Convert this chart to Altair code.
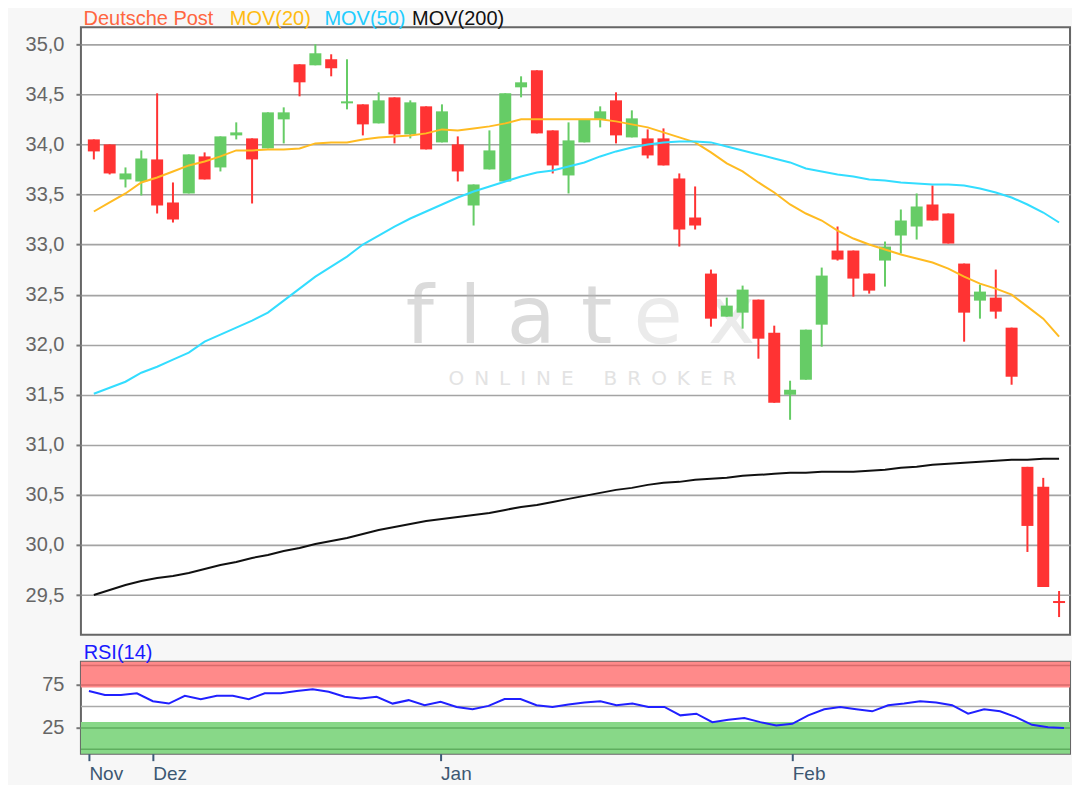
import altair as alt
import pandas as pd

# ---- data (62 trading days, late Nov .. late Feb) ----
opens = [34.05, 34.00, 33.65, 33.63, 33.85, 33.42, 33.51, 33.88, 33.77, 34.09,
         34.06, 33.96, 34.25, 34.80, 34.79, 34.85, 34.41, 34.40, 34.21, 34.47,
         34.10, 34.38, 34.02, 34.00, 33.39, 33.75, 33.63, 34.57, 34.74, 34.14,
         33.69, 34.02, 34.25, 34.44, 34.07, 34.06, 34.06, 33.66, 33.27, 32.71,
         32.28, 32.32, 32.45, 32.12, 31.50, 31.65, 32.20, 32.94, 32.94, 32.71,
         32.84, 33.09, 33.18, 33.40, 33.31, 32.81, 32.44, 32.47, 32.17, 30.78,
         30.58, 29.44]
highs = [34.05, 34.00, 33.77, 33.94, 34.51, 33.62, 33.90, 33.92, 34.08, 34.22,
         34.06, 34.32, 34.37, 34.80, 35.00, 34.90, 34.85, 34.40, 34.52, 34.47,
         34.44, 34.38, 34.40, 34.08, 33.60, 34.14, 34.51, 34.68, 34.74, 34.14,
         34.22, 34.25, 34.38, 34.52, 34.34, 34.15, 34.16, 33.71, 33.58, 32.75,
         32.47, 32.59, 32.45, 32.19, 31.64, 32.15, 32.77, 33.18, 32.94, 32.71,
         33.03, 33.35, 33.51, 33.59, 33.31, 32.81, 32.60, 32.75, 32.17, 30.78,
         30.67, 29.54]
lows = [33.85, 33.70, 33.57, 33.49, 33.31, 33.22, 33.51, 33.65, 33.73, 34.05,
        33.41, 33.96, 34.01, 34.48, 34.79, 34.68, 34.35, 34.09, 34.21, 34.01,
        34.06, 33.95, 34.02, 33.63, 33.19, 33.75, 33.63, 34.47, 34.11, 33.71,
        33.51, 34.02, 34.17, 34.01, 34.07, 33.86, 33.79, 32.98, 33.15, 32.18,
        32.28, 32.16, 31.86, 31.42, 31.25, 31.65, 31.98, 32.84, 32.48, 32.51,
        32.58, 32.91, 33.05, 33.24, 33.01, 32.03, 32.26, 32.26, 31.60, 29.93,
        29.58, 29.28]
closes = [33.93, 33.71, 33.71, 33.86, 33.39, 33.25, 33.90, 33.65, 34.08, 34.12,
          33.85, 34.32, 34.32, 34.62, 34.91, 34.76, 34.43, 34.20, 34.44, 34.10,
          34.42, 33.95, 34.33, 33.73, 33.60, 33.94, 34.51, 34.62, 34.11, 33.79,
          34.04, 34.25, 34.33, 34.09, 34.26, 33.89, 33.79, 33.15, 33.19, 32.26,
          32.39, 32.55, 32.06, 31.42, 31.55, 32.15, 32.69, 32.85, 32.66, 32.54,
          32.98, 33.24, 33.38, 33.24, 33.01, 32.32, 32.53, 32.33, 31.68, 30.19,
          29.58, 29.42]
mov20 = [33.33, 33.42, 33.51, 33.62, 33.67, 33.73, 33.79, 33.83, 33.88, 33.94,
         33.94, 33.95, 33.95, 33.96, 34.01, 34.02, 34.02, 34.05, 34.07, 34.08,
         34.09, 34.11, 34.15, 34.14, 34.16, 34.18, 34.21, 34.25, 34.25, 34.25,
         34.25, 34.25, 34.25, 34.23, 34.20, 34.17, 34.12, 34.07, 34.02, 33.92,
         33.81, 33.73, 33.62, 33.52, 33.40, 33.31, 33.24, 33.14, 33.06, 33.00,
         32.95, 32.90, 32.86, 32.82, 32.76, 32.68, 32.61, 32.56, 32.50, 32.38,
         32.26, 32.08]
mov50 = [31.51, 31.57, 31.63, 31.72, 31.78, 31.85, 31.92, 32.03, 32.10, 32.17,
         32.24, 32.32, 32.44, 32.56, 32.68, 32.78, 32.88, 33.00, 33.09, 33.18,
         33.26, 33.33, 33.40, 33.47, 33.53, 33.58, 33.63, 33.68, 33.72, 33.74,
         33.78, 33.82, 33.88, 33.93, 33.97, 34.00, 34.02, 34.03, 34.03, 34.02,
         33.98, 33.94, 33.90, 33.86, 33.82, 33.76, 33.73, 33.70, 33.68, 33.65,
         33.64, 33.62, 33.61, 33.60, 33.60, 33.59, 33.56, 33.52, 33.47, 33.40,
         33.32, 33.22]
mov200 = [29.50, 29.55, 29.60, 29.64, 29.67, 29.69, 29.72, 29.76, 29.80, 29.83,
          29.87, 29.90, 29.94, 29.97, 30.01, 30.04, 30.07, 30.11, 30.15, 30.18,
          30.21, 30.24, 30.26, 30.28, 30.30, 30.32, 30.35, 30.38, 30.40, 30.43,
          30.46, 30.49, 30.52, 30.55, 30.57, 30.60, 30.62, 30.63, 30.65, 30.66,
          30.67, 30.69, 30.70, 30.71, 30.72, 30.72, 30.73, 30.73, 30.73, 30.74,
          30.75, 30.77, 30.78, 30.80, 30.81, 30.82, 30.83, 30.84, 30.85, 30.85,
          30.86, 30.86]
rsi14 = [67.9, 63.2, 63.2, 65.2, 56.1, 53.3, 62.4, 58.5, 62.4, 62.4,
         58.5, 65.2, 65.2, 67.9, 69.9, 67.1, 61.2, 59.3, 61.2, 53.3,
         57.3, 51.4, 55.3, 49.4, 46.7, 50.6, 58.5, 58.5, 51.4, 49.4,
         52.2, 54.5, 56.1, 51.4, 53.3, 49.4, 49.4, 39.6, 41.5, 31.7,
         34.4, 36.4, 31.7, 27.8, 29.7, 39.6, 46.7, 49.4, 46.7, 44.3,
         51.4, 53.3, 56.1, 54.5, 51.4, 41.5, 46.7, 44.3, 37.5, 28.6,
         25.8, 25.0]
month_pos = [0, 4, 22, 44]
month_labels = ["Nov", "Dez", "Jan", "Feb"]
price_ticks = [29.5, 30.0, 30.5, 31.0, 31.5, 32.0, 32.5, 33.0, 33.5, 34.0, 34.5, 35.0]
rsi_ticks = [25, 75]
title_parts = ["Deutsche Post", "MOV(20)", "MOV(50)", "MOV(200)"]
title_colors = ["#ff6640", "#ffbb11", "#22ccff", "#111111"]

n = len(opens)
df = pd.DataFrame({
    "i": list(range(n)), "open": opens, "high": highs, "low": lows, "close": closes,
    "m20": mov20, "m50": mov50, "m200": mov200, "rsi": rsi14,
})
df["dir"] = ["up" if c > o else "down" for o, c in zip(opens, closes)]
one = pd.DataFrame({"a": [0]})

FONT = "Liberation Sans"
W = 990
H_MAIN = 608
H_RSI = 92

xscale = alt.Scale(domain=[-0.5, 61.375], nice=False, zero=False)
yscale = alt.Scale(domain=[29.103, 35.169], nice=False, zero=False)
cscale = alt.Scale(domain=["up", "down"], range=["#66cc66", "#ff3333"])

yaxis = alt.Axis(values=price_ticks,
                 labelExpr="replace(format(datum.value, '.1f'), '.', ',')",
                 grid=True, gridColor="#a4a4a4", gridWidth=1.6,
                 domain=False, tickSize=5, tickWidth=2, tickColor="#777777",
                 labelFontSize=20, labelColor="#666666", labelPadding=12,
                 labelFont=FONT, title=None)

base = alt.Chart(df)
X = alt.X("i:Q", scale=xscale, axis=None)

anchor = alt.Chart(one).mark_rule(color="#f7f7f7", strokeWidth=1).encode(
    x=alt.value(-71.5), y=alt.value(300), y2=alt.value(302))

wm1 = alt.Chart(one).mark_text(align="left", baseline="alphabetic", font="DejaVu Sans",
                               fontSize=80, color="#b8b8b8", opacity=0.5).encode(
    x=alt.value(325), y=alt.value(316), text=alt.value("f l a t"))
wm2 = alt.Chart(one).mark_text(align="left", baseline="alphabetic", font="DejaVu Sans",
                               fontSize=80, color="#d8d8d8", opacity=0.5).encode(
    x=alt.value(553), y=alt.value(316), text=alt.value("e x"))
wm3 = alt.Chart(one).mark_text(align="center", baseline="alphabetic", font="DejaVu Sans",
                               fontSize=20, color="#c8c8c8", opacity=0.5).encode(
    x=alt.value(512), y=alt.value(358),
    text=alt.value("O\u2002N\u2002L\u2002I\u2002N\u2002E\u2002\u2002\u2002B\u2002R\u2002O\u2002K\u2002E\u2002R"))

wicks = base.mark_rule(strokeWidth=2).encode(
    x=X, y=alt.Y("low:Q", scale=yscale, axis=yaxis), y2="high:Q",
    color=alt.Color("dir:N", scale=cscale, legend=None))
bodies = base.mark_bar(size=12).encode(
    x=X, y=alt.Y("open:Q", scale=yscale), y2="close:Q",
    color=alt.Color("dir:N", scale=cscale, legend=None))
l20 = base.mark_line(color="#ffbb22", strokeWidth=2).encode(x=X, y=alt.Y("m20:Q", scale=yscale))
l50 = base.mark_line(color="#33ddff", strokeWidth=2).encode(x=X, y=alt.Y("m50:Q", scale=yscale))
l200 = base.mark_line(color="#111111", strokeWidth=2).encode(x=X, y=alt.Y("m200:Q", scale=yscale))

title_x = [2.6, 149, 243.7, 331.5]
titles = [
    alt.Chart(one).mark_text(align="left", baseline="alphabetic", font=FONT, fontSize=20,
                             color=col).encode(x=alt.value(tx), y=alt.value(-2), text=alt.value(t))
    for t, col, tx in zip(title_parts, title_colors, title_x)
]

main = alt.layer(anchor, wm1, wm2, wm3, wicks, bodies, l20, l50, l200, *titles).properties(
    width=W, height=H_MAIN)

# ---- RSI panel ----
rscale = alt.Scale(domain=[-5, 102], nice=False, zero=False)
bands = pd.DataFrame({"lo": [72, -5], "hi": [102, 32], "b": ["ob", "os"]})
band_lines = pd.DataFrame({"v": [75, 97.5, 25, 0], "b": ["ob", "ob", "os", "os"]})
mid = pd.DataFrame({"v": [50]})

label_expr = " : ".join(
    [f"datum.value == {p} ? '{l}'" for p, l in zip(month_pos, month_labels)]) + " : ''"
xaxis = alt.Axis(values=month_pos, labelExpr=label_expr, grid=False, domain=False,
                 tickSize=7, tickWidth=2, tickColor="#3d5a78", labelColor="#3d5872",
                 labelFontSize=19, labelFont=FONT, labelAlign="left", labelBaseline="top",
                 labelPadding=4, labelFlush=False, title=None)
raxis = alt.Axis(values=rsi_ticks, grid=False, domain=False, tickSize=5, tickWidth=2,
                 tickColor="#777777", labelFontSize=20, labelColor="#666666",
                 labelPadding=12, labelFont=FONT, title=None)

band_rect = alt.Chart(bands).mark_rect().encode(
    y=alt.Y("lo:Q", scale=rscale, axis=raxis), y2="hi:Q",
    color=alt.Color("b:N", scale=alt.Scale(domain=["ob", "os"], range=["#ff8a8a", "#88d888"]),
                    legend=None))
band_rule = alt.Chart(band_lines).mark_rule(strokeWidth=1.5).encode(
    y=alt.Y("v:Q", scale=rscale),
    color=alt.Color("b:N", scale=alt.Scale(domain=["ob", "os"], range=["#d86a6a", "#5fae5f"]),
                    legend=None))
mid_rule = alt.Chart(mid).mark_rule(strokeWidth=1.5, color="#aaaaaa").encode(
    y=alt.Y("v:Q", scale=rscale))
rsi_line = base.mark_line(color="#2020ff", strokeWidth=2).encode(
    x=alt.X("i:Q", scale=xscale, axis=xaxis), y=alt.Y("rsi:Q", scale=rscale))
rsi_title = alt.Chart(one).mark_text(align="left", baseline="alphabetic", font=FONT, fontSize=20,
                                     color="#1a1aff").encode(
    x=alt.value(2.7), y=alt.value(-3), text=alt.value("RSI(14)"))

rsi_chart = alt.layer(band_rect, band_rule, mid_rule, rsi_line, rsi_title).resolve_scale(
    color="independent").properties(width=W, height=H_RSI)

chart = alt.vconcat(main, rsi_chart, spacing=27, bounds="flush").properties(
    padding=0
).configure(background="#f7f7f7", font=FONT).configure_view(
    stroke="#666666", strokeWidth=2, fill="white")

chart.save("out.html", embed_options={"renderer": "svg", "actions": False})
